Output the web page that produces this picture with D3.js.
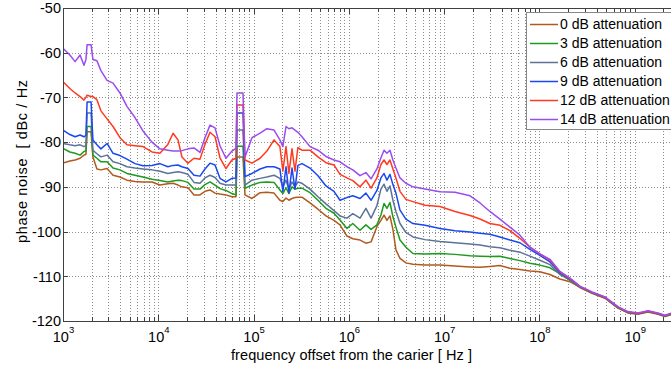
<!DOCTYPE html>
<html>
<head>
<meta charset="utf-8">
<script src="https://cdn.jsdelivr.net/npm/d3@7"></script>
<style>
  body { margin: 0; background: #fff; }
  text { font-family: "Liberation Sans", Arial, sans-serif; fill: #000; white-space: pre; }
</style>
</head>
<body>
<div id="chart"></div>
<script>
// frequency offset grid (Hz)
var freqHz = [1.0e3, 1.18e3, 1.34e3, 1.51e3, 1.66e3, 1.74e3, 1.79e3, 1.97e3, 2.06e3, 2.27e3,
  2.50e3, 2.90e3, 3.35e3, 3.96e3, 4.69e3, 5.69e3, 6.91e3, 8.59e3, 1.04e4, 1.26e4,
  1.43e4, 1.61e4, 1.77e4, 2.05e4, 2.37e4, 2.74e4, 3.09e4, 3.49e4, 3.94e4, 4.44e4,
  5.13e4, 5.93e4, 6.54e4, 6.70e4, 7.74e4, 8.13e4, 9.62e4, 1.17e5, 1.38e5, 1.64e5,
  1.89e5, 2.03e5, 2.19e5, 2.35e5, 2.53e5, 2.72e5, 2.92e5, 3.22e5, 3.91e5, 4.74e5,
  5.75e5, 6.98e5, 8.07e5, 9.55e5, 1.10e6, 1.31e6, 1.51e6, 1.71e6, 1.97e6, 2.17e6,
  2.34e6, 2.51e6, 2.70e6, 2.90e6, 3.12e6, 3.44e6, 3.97e6, 4.71e6, 6.29e6, 9.04e6,
  1.30e7, 1.87e7, 2.38e7, 3.02e7, 3.85e7, 4.90e7, 6.24e7, 7.95e7, 1.01e8, 1.29e8,
  1.64e8, 2.09e8, 2.66e8, 3.56e8, 4.87e8, 6.66e8, 8.48e8, 1.08e9, 1.38e9, 1.75e9,
  2.08e9, 2.46e9];

// phase noise, dBc/Hz
var att0 = [-84.7, -84.2, -84.0, -83.6, -82.9, -82.7, -77.7, -77.7, -83.3, -86.0,
  -86.2, -85.9, -87.4, -87.8, -88.5, -88.8, -88.9, -88.9, -89.6, -89.3,
  -89.2, -89.6, -90.0, -90.2, -91.8, -91.8, -91.0, -90.7, -91.4, -91.6,
  -91.8, -92.2, -92.2, -83.3, -83.3, -91.8, -92.6, -91.3, -91.2, -91.4,
  -93.0, -93.3, -92.5, -93.0, -92.6, -92.4, -92.3, -92.3, -93.6, -95.0,
  -96.5, -97.5, -98.5, -101.0, -101.6, -101.9, -102.6, -102.3, -98.9, -97.5,
  -96.3, -97.5, -96.5, -99.5, -104.1, -106.0, -107.0, -107.3, -107.5, -107.5,
  -107.7, -107.9, -108.0, -107.8, -107.6, -108.2, -108.5, -108.8, -109.0, -109.6,
  -110.6, -111.2, -112.5, -113.8, -114.9, -117.1, -118.2, -118.5, -118.0, -118.5,
  -119.0, -118.5];
var att3 = [-81.4, -82.2, -82.5, -82.9, -82.1, -82.0, -76.5, -76.5, -82.9, -83.6,
  -84.4, -84.4, -85.8, -86.2, -87.0, -87.4, -87.8, -88.3, -88.6, -88.9,
  -88.7, -88.5, -88.6, -89.0, -90.5, -90.5, -89.5, -88.9, -89.6, -90.4,
  -90.8, -91.5, -91.8, -80.9, -80.9, -90.3, -89.6, -89.0, -88.9, -89.0,
  -90.7, -91.5, -90.2, -91.5, -90.0, -90.5, -90.3, -90.3, -91.3, -93.0,
  -94.8, -95.9, -97.4, -99.3, -98.2, -99.7, -98.5, -99.5, -98.5, -96.3,
  -93.7, -94.8, -93.5, -96.7, -99.0, -101.9, -103.5, -104.9, -105.0, -104.9,
  -105.1, -105.4, -105.5, -105.6, -105.5, -106.0, -106.5, -107.1, -107.5, -108.1,
  -109.4, -110.9, -112.4, -113.7, -114.8, -117.0, -118.1, -118.4, -117.9, -118.4,
  -118.9, -118.4];
var att6 = [-80.3, -80.6, -80.8, -80.6, -81.0, -80.8, -73.5, -73.5, -81.8, -82.6,
  -83.3, -82.9, -84.4, -84.8, -85.5, -85.8, -86.0, -86.2, -86.5, -87.0,
  -86.8, -86.6, -86.8, -87.2, -89.0, -89.2, -88.0, -87.4, -87.9, -89.2,
  -89.6, -89.6, -89.6, -77.3, -77.3, -89.6, -88.5, -88.1, -87.8, -87.4,
  -88.1, -90.0, -88.5, -90.5, -88.9, -90.0, -88.9, -89.2, -90.5, -92.2,
  -93.8, -95.3, -96.5, -97.0, -96.0, -97.0, -94.8, -97.0, -94.2, -90.5,
  -89.4, -91.0, -89.8, -93.0, -95.5, -98.2, -100.2, -101.2, -101.8, -102.2,
  -102.5, -102.8, -103.0, -103.4, -103.6, -104.2, -104.6, -105.5, -106.4, -107.4,
  -109.6, -110.8, -112.4, -113.7, -114.8, -117.0, -118.1, -118.4, -117.9, -118.4,
  -118.9, -118.4];
var att9 = [-77.3, -78.3, -78.8, -78.4, -78.8, -78.5, -71.0, -71.0, -79.5, -80.6,
  -81.5, -80.3, -82.5, -83.0, -83.8, -84.8, -85.3, -85.2, -84.8, -85.5,
  -85.2, -85.1, -85.5, -85.9, -87.4, -87.6, -86.0, -84.7, -85.1, -88.1,
  -88.9, -88.1, -88.0, -73.5, -73.5, -87.7, -87.0, -86.0, -85.5, -85.5,
  -86.0, -91.0, -85.5, -91.4, -85.8, -90.5, -85.2, -84.8, -85.8, -87.5,
  -89.8, -91.0, -93.0, -92.4, -92.0, -92.6, -91.4, -93.0, -90.8, -88.0,
  -87.0, -88.5, -87.2, -89.5, -91.4, -95.2, -97.2, -98.2, -98.6, -99.3,
  -99.8, -100.1, -100.4, -100.6, -101.2, -101.9, -102.5, -104.0, -105.3, -106.8,
  -109.2, -110.6, -112.3, -113.6, -114.7, -116.9, -118.0, -118.3, -117.8, -118.3,
  -118.8, -118.3];
var att12 = [-66.5, -68.0, -69.0, -69.8, -70.6, -70.0, -69.5, -69.8, -69.8, -70.5,
  -73.0, -74.8, -76.5, -79.0, -80.6, -80.8, -81.0, -82.2, -82.5, -80.5,
  -78.0, -79.5, -83.3, -84.7, -83.6, -83.8, -80.5, -77.8, -78.8, -83.5,
  -85.9, -84.0, -83.6, -71.7, -71.7, -84.0, -84.7, -83.6, -82.0, -79.5,
  -81.0, -86.5, -81.0, -87.0, -81.5, -86.5, -81.2, -81.8, -81.8, -83.3,
  -84.6, -85.1, -87.2, -88.0, -88.6, -90.0, -88.5, -90.3, -88.0, -85.0,
  -84.0, -85.0, -84.0, -86.0, -88.0, -91.0, -92.8, -93.3, -94.1, -94.4,
  -95.5, -96.4, -97.2, -98.2, -98.6, -99.8, -101.5, -103.5, -105.0, -106.4,
  -109.0, -110.5, -112.3, -113.6, -114.7, -116.9, -118.0, -118.3, -117.8, -118.3,
  -118.8, -118.3];
var att14 = [-59.0, -60.5, -62.0, -60.5, -62.8, -61.5, -58.2, -58.2, -61.5, -61.8,
  -64.0, -66.2, -66.8, -69.0, -72.0, -74.5, -77.5, -80.0, -81.5, -81.8,
  -82.0, -82.0, -81.9, -81.5, -81.3, -82.3, -79.0, -76.2, -76.8, -80.8,
  -83.6, -82.0, -81.4, -69.0, -69.0, -83.3, -79.0, -78.0, -77.0, -77.3,
  -79.5, -81.0, -76.5, -77.0, -76.8, -77.3, -77.8, -78.8, -81.0, -81.8,
  -83.2, -84.0, -84.4, -85.5, -86.2, -87.5, -86.8, -88.2, -86.0, -83.5,
  -81.8, -82.5, -81.8, -84.0, -85.8, -88.0, -89.2, -90.0, -90.5, -91.1,
  -91.2, -92.0, -93.6, -95.5, -97.2, -99.0, -100.8, -103.5, -105.0, -106.2,
  -108.9, -110.4, -112.2, -113.5, -114.6, -116.8, -117.9, -118.2, -117.7, -118.2,
  -118.7, -118.2];

var seriesNames = ["0 dB attenuation", "3 dB attenuation", "6 dB attenuation",
  "9 dB attenuation", "12 dB attenuation", "14 dB attenuation"];
var seriesValues = [att0, att3, att6, att9, att12, att14];
var seriesColors = ["#b25a1e", "#1e9a1e", "#5b7398", "#1a48f0", "#ff3a1e", "#9b4cf0"];

var yTicks = [-120, -110, -100, -90, -80, -70, -60, -50];
var xDecades = [3, 4, 5, 6, 7, 8, 9];

var width = 671, height = 366;
var plotL = 63, plotT = 8, plotB = 321, plotR = 730;

var svg = d3.select("#chart").append("svg")
  .attr("width", width).attr("height", height);

var x = d3.scaleLog().domain([1e3, 1e10]).range([plotL, plotR]);
var y = d3.scaleLinear().domain([-120, -50]).range([plotB, plotT]);

// minor + major x positions
var xGrid = [];
xDecades.forEach(function(e) {
  for (var m = 1; m < 10; m++) xGrid.push(m * Math.pow(10, e));
});

function isMajor(v) {
  var l = Math.log10(v);
  return Math.abs(l - Math.round(l)) < 1e-9;
}
function px(v) { return Math.round(v) + 0.5; }

var grid = svg.append("g").attr("shape-rendering", "crispEdges");
grid.selectAll(".vg").data(xGrid.filter(function(v) { return v > 1e3; }))
  .enter().append("line")
  .attr("x1", function(d) { return px(x(d)); })
  .attr("x2", function(d) { return px(x(d)); })
  .attr("y1", plotT).attr("y2", plotB)
  .attr("stroke", "#8c8c8c").attr("stroke-dasharray", "1,2");
grid.selectAll(".hg").data(yTicks.slice(1, -1))
  .enter().append("line")
  .attr("x1", plotL).attr("x2", width)
  .attr("y1", function(d) { return px(y(d)); })
  .attr("y2", function(d) { return px(y(d)); })
  .attr("stroke", "#8c8c8c").attr("stroke-dasharray", "1,2");

svg.append("clipPath").attr("id", "clip")
  .append("rect").attr("x", plotL).attr("y", plotT)
  .attr("width", plotR - plotL).attr("height", plotB - plotT);

var line = d3.line()
  .x(function(d, i) { return x(freqHz[i]); })
  .y(function(d) { return y(d); });

svg.append("g").attr("clip-path", "url(#clip)")
  .selectAll("path").data(seriesValues).enter().append("path")
  .attr("d", line)
  .attr("fill", "none")
  .attr("stroke", function(d, i) { return seriesColors[i]; })
  .attr("stroke-width", 1.5)
  .attr("stroke-linejoin", "round");

// axes box
var axis = svg.append("g").attr("shape-rendering", "crispEdges").attr("stroke", "#404040");
axis.append("line").attr("x1", plotL + 0.5).attr("x2", plotL + 0.5).attr("y1", plotT).attr("y2", plotB + 1);
axis.append("line").attr("x1", plotL).attr("x2", width).attr("y1", plotB + 0.5).attr("y2", plotB + 0.5);
axis.append("line").attr("x1", plotL).attr("x2", width).attr("y1", plotT + 0.5).attr("y2", plotT + 0.5);

// ticks
axis.selectAll(".yt").data(yTicks).enter().append("line")
  .attr("x1", plotL).attr("x2", plotL + 5)
  .attr("y1", function(d) { return px(y(d)); })
  .attr("y2", function(d) { return px(y(d)); });
axis.selectAll(".xtb").data(xGrid).enter().append("line")
  .attr("x1", function(d) { return px(x(d)); })
  .attr("x2", function(d) { return px(x(d)); })
  .attr("y1", plotB).attr("y2", function(d) { return plotB - (isMajor(d) ? 6 : 4); });
axis.selectAll(".xtt").data(xGrid).enter().append("line")
  .attr("x1", function(d) { return px(x(d)); })
  .attr("x2", function(d) { return px(x(d)); })
  .attr("y1", plotT).attr("y2", function(d) { return plotT + (isMajor(d) ? 6 : 4); });

// tick labels
svg.selectAll(".yl").data(yTicks).enter().append("text")
  .attr("x", 61).attr("y", function(d) { return y(d); })
  .attr("dy", "0.36em").attr("text-anchor", "end")
  .style("font-size", "14.5px")
  .text(function(d) { return d; });

var xl = svg.selectAll(".xl").data(xDecades).enter().append("text")
  .attr("x", function(d) { return x(Math.pow(10, d)) + 0.5; })
  .attr("y", 341.5)
  .attr("text-anchor", "middle")
  .style("font-size", "14.5px");
xl.append("tspan").text("10");
xl.append("tspan").attr("dy", -8.5).style("font-size", "9.5px").text(function(d) { return d; });

// axis titles
svg.append("text")
  .attr("x", 351.5).attr("y", 360)
  .attr("text-anchor", "middle")
  .style("font-size", "14.5px")
  .attr("textLength", 241).attr("lengthAdjust", "spacing")
  .text("frequency offset from the carier [ Hz ]");
svg.append("text")
  .attr("transform", "translate(27,161.5) rotate(-90)")
  .attr("text-anchor", "middle")
  .style("font-size", "14.5px")
  .attr("textLength", 163).attr("lengthAdjust", "spacing")
  .text("phase noise  [ dBc / Hz");

// legend
var legend = svg.append("g");
legend.append("rect")
  .attr("x", 526.5).attr("y", 12.5).attr("width", 200).attr("height", 117)
  .attr("fill", "#fff").attr("stroke", "#888");
var items = legend.selectAll(".li").data(seriesNames).enter().append("g")
  .attr("transform", function(d, i) { return "translate(0," + (24 + i * 19) + ")"; });
items.append("line")
  .attr("x1", 530).attr("x2", 558).attr("y1", 0.5).attr("y2", 0.5)
  .attr("stroke", function(d, i) { return seriesColors[i]; })
  .attr("stroke-width", 1.5);
items.append("text")
  .attr("x", 560).attr("y", 0).attr("dy", "0.36em")
  .style("font-size", "14px")
  .text(function(d) { return d; });
</script>
</body>
</html>
